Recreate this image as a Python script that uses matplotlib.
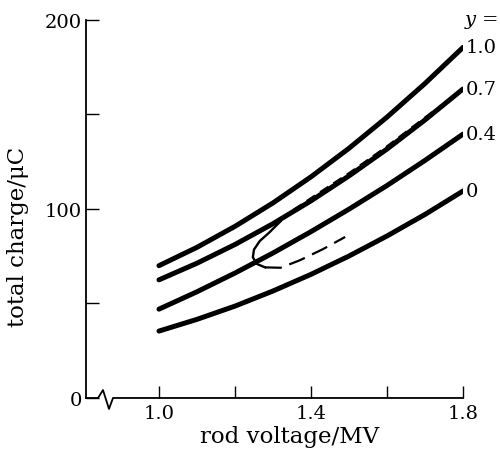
import matplotlib
matplotlib.use("Agg")
import matplotlib.pyplot as plt
import matplotlib.transforms as mtransforms

# rod voltage (MV) and total charge (uC)
voltage = [1.0, 1.1, 1.2, 1.3, 1.4, 1.5, 1.6, 1.7, 1.8]
charge_y10 = [70.0, 79.7, 90.8, 103.2, 117.0, 132.1, 148.6, 166.4, 185.5]
charge_y07 = [62.5, 71.3, 81.2, 92.2, 104.3, 117.5, 131.7, 147.1, 163.5]
charge_y04 = [47.0, 56.2, 66.1, 76.7, 88.0, 99.9, 112.4, 125.7, 139.6]
charge_y00 = [35.4, 41.6, 48.6, 56.6, 65.4, 75.1, 85.7, 97.1, 109.5]
curve_labels = ["1.0", "0.7", "0.4", "0"]

# second branch for y = 0.7: runs along the upper curve, turns back, lower branch
branch_upper_v = [1.72, 1.6, 1.5, 1.4, 1.32]
branch_upper_q = [150.0, 131.7, 117.5, 104.3, 93.5]
hook_v = [1.32, 1.29, 1.265, 1.25, 1.247, 1.257, 1.279]
hook_q = [93.5, 87.5, 83.0, 78.5, 74.5, 71.0, 69.1]
branch_lower_v = [1.279, 1.32, 1.37, 1.43, 1.49]
branch_lower_q = [69.1, 68.9, 72.8, 78.6, 85.2]

xticks = [1.0, 1.2, 1.4, 1.6, 1.8]
xticklabels = ["1.0", "", "1.4", "", "1.8"]
yticks = [0, 50, 100, 150, 200]
yticklabels = ["0", "", "100", "", "200"]

plt.rcParams["font.family"] = ["DejaVu Serif"]
plt.rcParams["mathtext.fontset"] = "dejavuserif"

fig = plt.figure(figsize=(5, 4.52), dpi=100)
ax = fig.add_axes([0.172, 0.1173, 0.754, 0.8363])

for q, lab in zip([charge_y10, charge_y07, charge_y04, charge_y00], curve_labels):
    ax.plot(voltage, q, color="black", lw=3.6, solid_capstyle="round")
    ax.annotate(lab, xy=(voltage[-1], q[-1]), xytext=(2, 0), textcoords="offset points",
                ha="left", va="center", fontsize=14)

shift = mtransforms.offset_copy(ax.transData, fig=fig, x=0, y=2.0, units="dots")
ax.plot(branch_upper_v, branch_upper_q, color="black", lw=2.4, ls=(0, (3, 1.8)), transform=shift)
ax.plot(hook_v, hook_q, color="black", lw=1.7)
ax.plot(branch_lower_v, branch_lower_q, color="black", lw=1.6, ls=(0, (7.6, 3.6)))

ax.set_xlim(0.808, 1.8)
ax.set_ylim(0, 200)
ax.set_xticks(xticks)
ax.set_xticklabels(xticklabels)
ax.set_yticks(yticks)
ax.set_yticklabels(yticklabels)
ax.tick_params(direction="in", length=9, width=1, labelsize=14)
ax.tick_params(axis="x", pad=4)
ax.tick_params(axis="y", pad=3)

for s in ["top", "right", "bottom"]:
    ax.spines[s].set_visible(False)
ax.spines["left"].set_linewidth(1.3)

# broken x axis
ax.plot([0, 0.032, 0.045, 0.061, 0.0716, 1.0], [0, 0, 0.021, -0.029, 0, 0],
        transform=ax.transAxes, color="black", lw=1.3, clip_on=False)

ax.set_xlabel("rod voltage/MV", fontsize=16.5)
ax.xaxis.set_label_coords(0.54, -0.072)
ax.set_ylabel("total charge/\u03bcC", fontsize=16.5)
ax.yaxis.set_label_coords(-0.15, 0.43)

fig.text(0.997, 0.951, "$y$ =", fontsize=14, ha="right", va="center")

fig.savefig("out.png", dpi=100)
